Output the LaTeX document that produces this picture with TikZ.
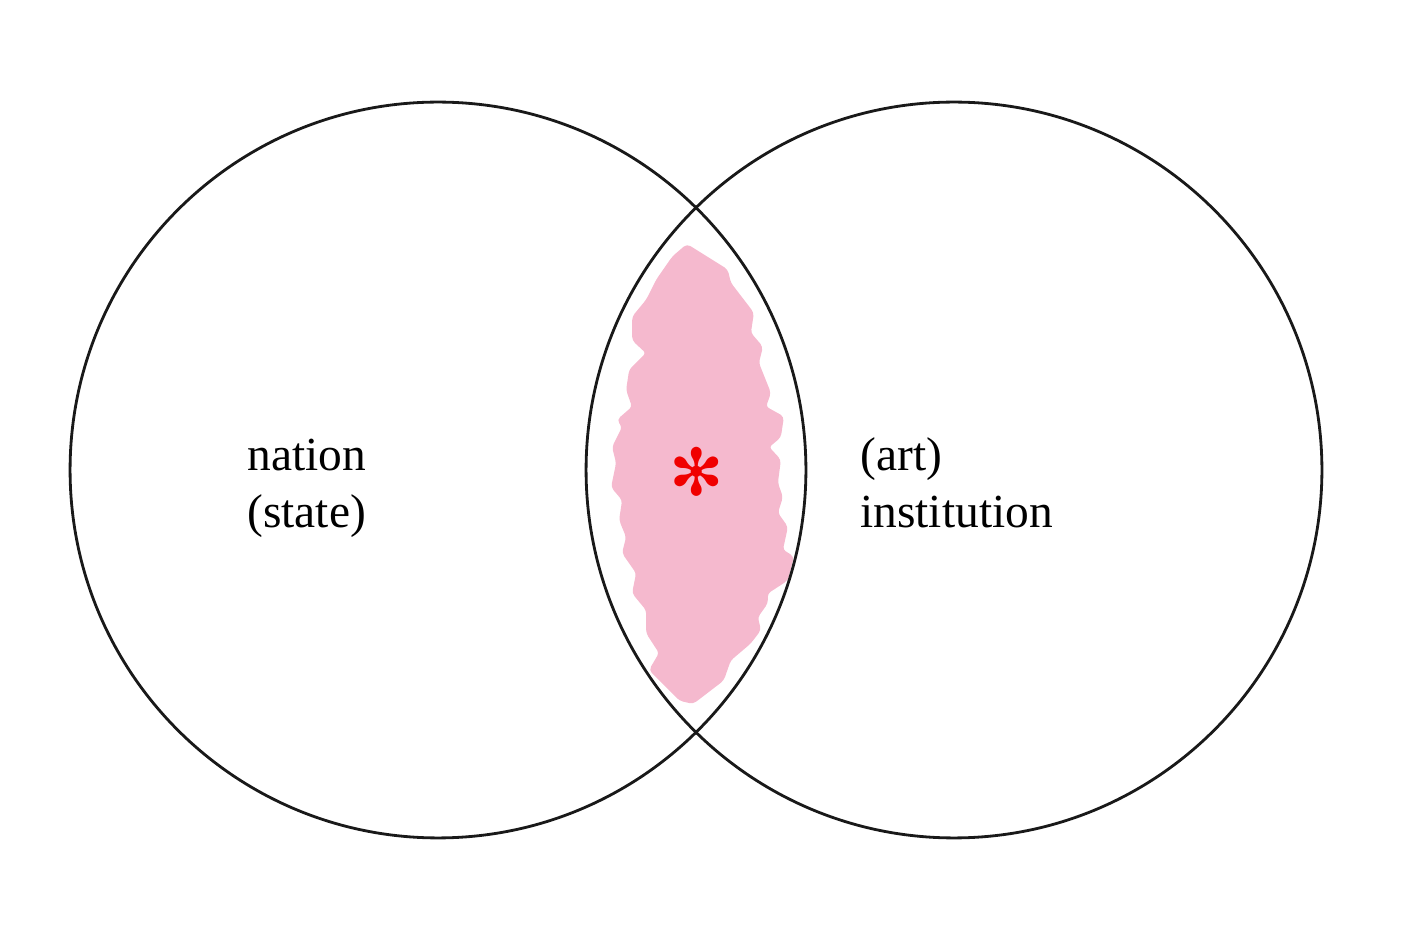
\documentclass[tikz,border=0pt]{standalone}
\usepackage{fontspec}
\setmainfont{Liberation Serif}
\newfontfamily\dingfont{DejaVu Sans}
\usepackage{tikz}
\usetikzlibrary{positioning}
\definecolor{ringline}{RGB}{25,25,25}
\definecolor{blushpink}{RGB}{245,185,206}
\definecolor{starred}{RGB}{240,0,0}
\tikzset{
  setcircle/.style={
    circle, draw=ringline, line width=1.6pt, minimum size=14.72cm,
    inner sep=0pt
  },
  setlabel/.style={
    anchor=base west, align=left, inner sep=0pt,
    font=\fontsize{27}{32.5}\selectfont
  },
  overlapfill/.style={fill=blushpink, draw=blushpink, line width=1pt,
    rounded corners=2pt},
  marker/.style={anchor=center, inner sep=0pt, text=starred,
    font=\dingfont\fontsize{37}{37}\selectfont}
}

\begin{document}
\begin{tikzpicture}[x=0.02cm, y=-0.02cm]

  \useasboundingbox (0,0) rectangle (1417,945);

  % Overlap shading
  \filldraw[overlapfill] (687,245) -- (727,270) -- (730,283) -- (753,313)
    -- (750,333) -- (762,347) -- (758,363) -- (770,393) -- (765,407)
    -- (783,417) -- (780,437) -- (768,447) -- (780,460) -- (777,483)
    -- (782,497) -- (777,513) -- (787,527) -- (782,550) -- (793,557)
    -- (787,580) -- (767,593) -- (767,603) -- (757,617) -- (760,630)
    -- (750,643) -- (730,660) -- (723,680) -- (693,703) -- (680,700)
    -- (650,670) -- (660,653) -- (647,633) -- (647,610) -- (633,593)
    -- (637,573) -- (623,553) -- (627,537) -- (620,520) -- (623,500)
    -- (612,487) -- (617,463) -- (613,447) -- (623,427) -- (618,420)
    -- (633,407) -- (627,390) -- (630,370) -- (647,353) -- (633,340)
    -- (633,317) -- (647,300) -- (657,280) -- (673,257) -- cycle;

  % Circles
  \node[setcircle] (nation) at (438,470) {};
  \node[setcircle] (institution) at (954,470) {};

  % Labels
  \node[setlabel] (nationlbl) at (247,528) {nation\\(state)};
  \node[setlabel] (institutionlbl) at (860,528) {(art)\\institution};

  % Marker
  \node[marker] (star) at (697,472) {✻};

\end{tikzpicture}
\end{document}
